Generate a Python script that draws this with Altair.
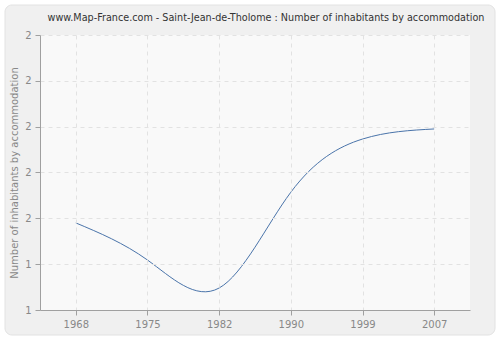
import altair as alt
import pandas as pd

years = ["1968", "1975", "1982", "1990", "1999", "2007"]
values = [1.490, 1.409, 1.348, 1.557, 1.673, 1.695]
tick_values = [1.3, 1.4, 1.5, 1.6, 1.7, 1.8, 1.9]
tick_labels = ["1", "1", "2", "2", "2", "2", "2"]
title_text = "www.Map-France.com - Saint-Jean-de-Tholome : Number of inhabitants by accommodation"

df = pd.DataFrame({"year": years, "value": values})

W, H = 430, 275
label_expr = "[" + ",".join(f"'{t}'" for t in tick_labels) + "][round((datum.value - 1.3) * 10)]"

one = pd.DataFrame({"t": [title_text]})
outer = alt.Chart(one).mark_rect(
    fill="#f0f0f0", stroke="#e2e2e2", strokeWidth=1, cornerRadius=7, clip=False
).encode(x=alt.value(-35), x2=alt.value(455), y=alt.value(-30), y2=alt.value(300))

inner = alt.Chart(one).mark_rect(fill="#f9f9f9").encode(
    x=alt.value(0), x2=alt.value(W), y=alt.value(0), y2=alt.value(H)
)

title = alt.Chart(one).mark_text(
    font="DejaVu Sans", fontSize=9.65, color="#333333", align="center", baseline="middle"
).encode(x=alt.value(226), y=alt.value(-17), text="t:N")

line = alt.Chart(df).mark_line(
    interpolate="natural", color="#4a74aa", strokeWidth=1
).encode(
    x=alt.X(
        "year:O",
        sort=years,
        scale=alt.Scale(type="point", padding=0.5),
        axis=alt.Axis(
            title=None, labelAngle=0, grid=True, gridDash=[4, 4], gridColor="#e2e2e2",
            domainColor="#a0a0a0", tickColor="#a0a0a0", tickSize=5,
            labelColor="#888888", labelFont="DejaVu Sans", labelFontSize=10, labelPadding=4,
            zindex=1,
        ),
    ),
    y=alt.Y(
        "value:Q",
        scale=alt.Scale(domain=[1.3, 1.9], nice=False, zero=False),
        axis=alt.Axis(
            values=tick_values, labelExpr=label_expr,
            title="Number of inhabitants by accommodation", titleColor="#888888",
            titleFont="DejaVu Sans", titleFontSize=10, titleFontWeight="normal", titlePadding=5,
            grid=True, gridDash=[4, 4], gridColor="#e2e2e2",
            domainColor="#a0a0a0", tickColor="#a0a0a0", tickSize=5,
            labelColor="#888888", labelFont="DejaVu Sans", labelFontSize=10, labelPadding=4,
            zindex=1,
        ),
    ),
)

chart = alt.layer(outer, inner, title, line).properties(
    width=W,
    height=H,
    background="#ffffff",
    padding={"left": 40, "top": 35, "right": 30, "bottom": 30},
    autosize=alt.AutoSizeParams(type="none"),
).configure_view(strokeWidth=0)

chart.save("out.html", embed_options={"renderer": "svg", "actions": False})
